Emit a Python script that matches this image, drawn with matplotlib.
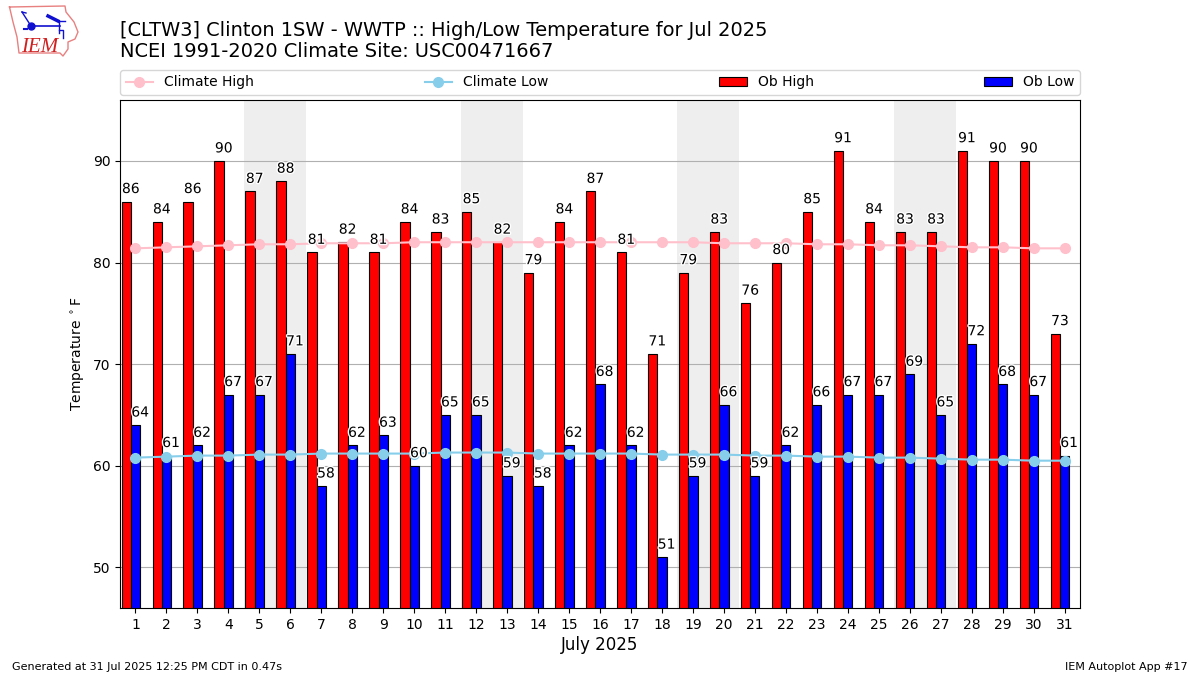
import matplotlib
matplotlib.use("Agg")
import matplotlib.pyplot as plt
import matplotlib.patheffects as pe
import numpy as np

days = np.arange(1, 32)
ob_high = [86, 84, 86, 90, 87, 88, 81, 82, 81, 84, 83, 85, 82, 79, 84, 87,
           81, 71, 79, 83, 76, 80, 85, 91, 84, 83, 83, 91, 90, 90, 73]
ob_low = [64, 61, 62, 67, 67, 71, 58, 62, 63, 60, 65, 65, 59, 58, 62, 68,
          62, 51, 59, 66, 59, 62, 66, 67, 67, 69, 65, 72, 68, 67, 61]
climate_high = [81.4, 81.5, 81.6, 81.7, 81.8, 81.8, 81.9, 81.9, 81.9, 82.0, 82.0,
                82.0, 82.0, 82.0, 82.0, 82.0, 82.0, 82.0, 82.0, 81.9, 81.9, 81.9,
                81.8, 81.8, 81.7, 81.7, 81.6, 81.5, 81.5, 81.4, 81.4]
climate_low = [60.8, 60.9, 61.0, 61.0, 61.1, 61.1, 61.2, 61.2, 61.2, 61.2, 61.3,
               61.3, 61.3, 61.2, 61.2, 61.2, 61.2, 61.1, 61.1, 61.1, 61.0, 61.0,
               60.9, 60.9, 60.8, 60.8, 60.7, 60.6, 60.6, 60.5, 60.5]
weekends = [5, 12, 19, 26]

W, H = 1200, 675
fig = plt.figure(figsize=(12, 6.75), dpi=100)
ax = fig.add_axes([120 / W, 1 - 608 / H, 960 / W, 508 / H])

# weekend shading
for d in weekends:
    ax.axvspan(d - 0.5, d + 1.5, color="#eeeeee", lw=0, zorder=0)

ax.bar(days - 0.3, ob_high, width=0.3, color="red", edgecolor="k", linewidth=0.8,
       label="Ob High", zorder=2)
ax.bar(days, ob_low, width=0.3, color="blue", edgecolor="k", linewidth=0.8,
       label="Ob Low", zorder=2)
ax.plot(days, climate_high, color="pink", marker="o", ms=7, lw=1.5, label="Climate High", zorder=3)
ax.plot(days, climate_low, color="skyblue", marker="o", ms=7, lw=1.5, label="Climate Low", zorder=3)

halo = [pe.withStroke(linewidth=2, foreground="white")]
for d, hi, lo in zip(days, ob_high, ob_low):
    ax.text(d - 0.15, hi + 0.55, str(hi), ha="center", va="bottom", fontsize=10,
            path_effects=halo, zorder=4)
    ax.text(d + 0.15, lo + 0.55, str(lo), ha="center", va="bottom", fontsize=10,
            path_effects=halo, zorder=4)

ax.set_xlim(0.5, 31.5)
ax.set_ylim(46, 96)
ax.set_xticks(days)
ax.set_yticks([50, 60, 70, 80, 90])
ax.set_axisbelow(True)
ax.grid(axis="y", color="#b0b0b0", lw=0.8)
ax.set_ylabel(r"Temperature $^\circ$F", labelpad=4)
ax.set_xlabel("July 2025", fontsize=12, labelpad=3)

handles, labels = ax.get_legend_handles_labels()
ax.legend(handles, labels, ncol=4, mode="expand",
          loc="lower left", bbox_to_anchor=(0, 1.01, 1, 0.05), borderaxespad=0, fontsize=10)

fig.text(120 / W, 1 - 36 / H, "[CLTW3] Clinton 1SW - WWTP :: High/Low Temperature for Jul 2025",
         fontsize=13.98, va="baseline")
fig.text(120 / W, 1 - 57 / H, "NCEI 1991-2020 Climate Site: USC00471667",
         fontsize=13.98, va="baseline")
fig.text(12 / W, 1 - 670 / H, "Generated at 31 Jul 2025 12:25 PM CDT in 0.47s", fontsize=8, va="baseline")
fig.text(1188 / W, 1 - 670 / H, "IEM Autoplot App #17", fontsize=8, ha="right", va="baseline")

# IEM logo, drawn in pixel coordinates
logo = fig.add_axes([0, 1 - 60 / H, 90 / W, 60 / H])
logo.set_xlim(0, 90)
logo.set_ylim(60, 0)
logo.axis("off")
state_x = [9.5, 65, 66, 74, 78, 75, 68, 68, 63, 60, 19, 17, 13, 9.5]
state_y = [7, 6, 12, 22, 32, 39, 42, 49, 56, 53, 53, 37, 22, 7]
logo.plot(state_x, state_y, color="#e88080", lw=1)
logo.plot([31, 60], [26, 26], color="#1010d0", lw=1.2)
logo.plot([31], [26], "o", color="#1010d0", ms=5)
logo.plot([22, 31], [12, 26], color="#1010d0", lw=1)
logo.plot([22, 26], [12, 13], color="#1010d0", lw=1)
logo.plot([48, 58], [16, 21], color="#1010d0", lw=2.5)
logo.plot([58, 65], [21, 21], color="#1010d0", lw=1)
logo.plot([59, 59], [21, 33], color="#1010d0", lw=1)
logo.plot([59, 63, 63], [30, 30, 38], color="#1010d0", lw=1)
logo.plot([24, 27], [29, 29], color="#1010d0", lw=1.5)
logo.text(21, 51.5, "IEM", color="#d02020", fontsize=15, family="Liberation Serif",
          style="italic", va="baseline")

fig.savefig("out.png", dpi=100)
